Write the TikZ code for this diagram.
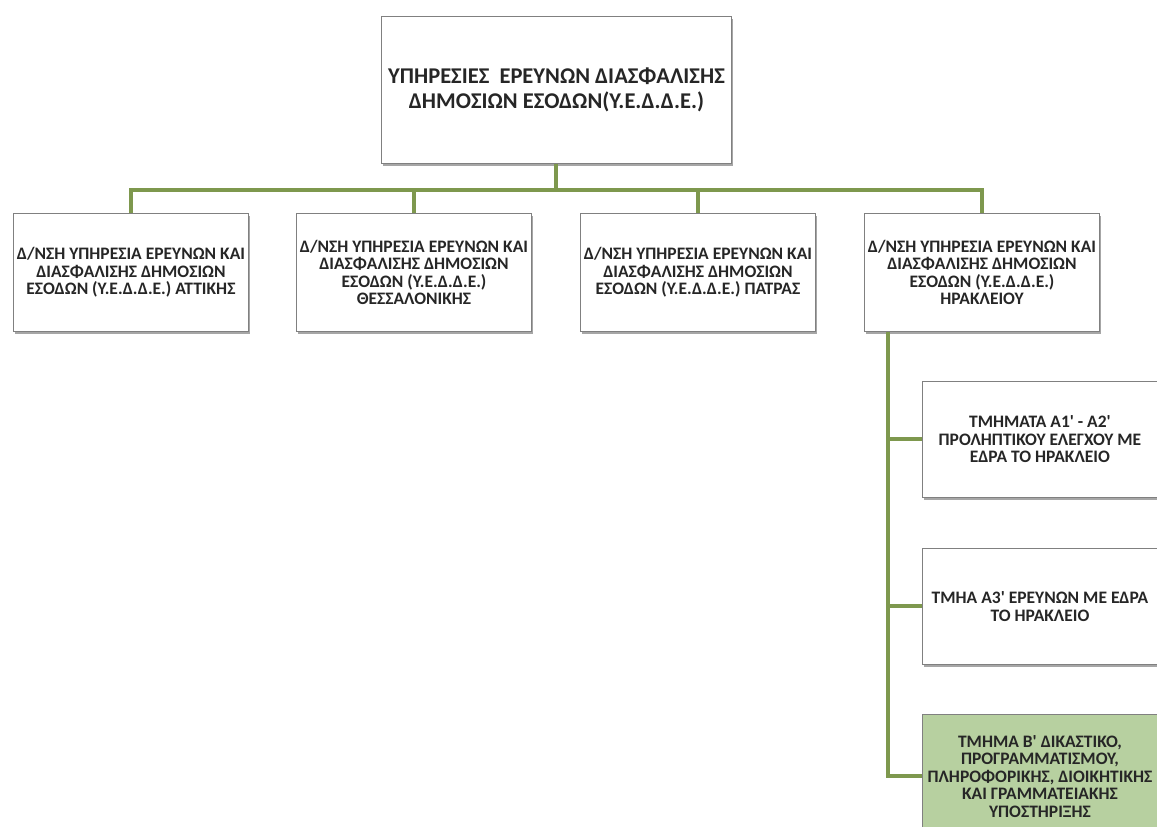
\documentclass[tikz,border=0pt]{standalone}
\usepackage{fontspec}
\setmainfont{Carlito}[Ligatures=TeXOff]
\usetikzlibrary{shadows}
\definecolor{lineg}{RGB}{126,152,78}
\definecolor{fillg}{RGB}{183,208,160}
\definecolor{boxb}{RGB}{128,128,128}
\tikzset{
  orgbox/.style={draw=boxb, line width=0.9pt, fill=white, rectangle, anchor=north west,
    minimum width=235pt, minimum height=118pt, align=center, inner sep=1pt,
    font=\bfseries\fontsize{17.5}{17.5}\selectfont, text=black!85,
    drop shadow={shadow xshift=2pt, shadow yshift=-3pt, opacity=0.35, fill=black}},
  topbox/.style={orgbox, minimum width=350pt, minimum height=147pt,
    font=\bfseries\fontsize{22.5}{25}\selectfont},
  greenbox/.style={orgbox, fill=fillg},
  conn/.style={draw=lineg, line width=4pt}
}
\begin{document}
\begin{tikzpicture}[x=1pt,y=-1pt]
\useasboundingbox (0,0) rectangle (1157,827);
\clip (0,0) rectangle (1157,827);
\node[topbox] (top) at (381,16) {ΥΠΗΡΕΣΙΕΣ\ \ ΕΡΕΥΝΩΝ ΔΙΑΣΦΑΛΙΣΗΣ\\ΔΗΜΟΣΙΩΝ ΕΣΟΔΩΝ(Υ.Ε.Δ.Δ.Ε.)};
\node[orgbox] (c1) at (13,213) {Δ/ΝΣΗ ΥΠΗΡΕΣΙΑ ΕΡΕΥΝΩΝ ΚΑΙ\\ΔΙΑΣΦΑΛΙΣΗΣ ΔΗΜΟΣΙΩΝ\\ΕΣΟΔΩΝ (Υ.Ε.Δ.Δ.Ε.) ΑΤΤΙΚΗΣ};
\node[orgbox] (c2) at (296,213) {Δ/ΝΣΗ ΥΠΗΡΕΣΙΑ ΕΡΕΥΝΩΝ ΚΑΙ\\ΔΙΑΣΦΑΛΙΣΗΣ ΔΗΜΟΣΙΩΝ\\ΕΣΟΔΩΝ (Υ.Ε.Δ.Δ.Ε.)\\ΘΕΣΣΑΛΟΝΙΚΗΣ};
\node[orgbox] (c3) at (580,213) {Δ/ΝΣΗ ΥΠΗΡΕΣΙΑ ΕΡΕΥΝΩΝ ΚΑΙ\\ΔΙΑΣΦΑΛΙΣΗΣ ΔΗΜΟΣΙΩΝ\\ΕΣΟΔΩΝ (Υ.Ε.Δ.Δ.Ε.) ΠΑΤΡΑΣ};
\node[orgbox] (c4) at (864,213) {Δ/ΝΣΗ ΥΠΗΡΕΣΙΑ ΕΡΕΥΝΩΝ ΚΑΙ\\ΔΙΑΣΦΑΛΙΣΗΣ ΔΗΜΟΣΙΩΝ\\ΕΣΟΔΩΝ (Υ.Ε.Δ.Δ.Ε.)\\ΗΡΑΚΛΕΙΟΥ};
\node[orgbox, minimum height=116pt] (a) at (922,381) {ΤΜΗΜΑΤΑ Α1' - Α2'\\ΠΡΟΛΗΠΤΙΚΟΥ ΕΛΕΓΧΟΥ ΜΕ\\ΕΔΡΑ ΤΟ ΗΡΑΚΛΕΙΟ};
\node[orgbox, minimum height=116pt] (b) at (922,548) {ΤΜΗΑ Α3' ΕΡΕΥΝΩΝ ΜΕ ΕΔΡΑ\\ΤΟ ΗΡΑΚΛΕΙΟ};
\node[greenbox, minimum height=124pt] (c) at (922,714) {ΤΜΗΜΑ Β' ΔΙΚΑΣΤΙΚΟ,\\ΠΡΟΓΡΑΜΜΑΤΙΣΜΟΥ,\\ΠΛΗΡΟΦΟΡΙΚΗΣ, ΔΙΟΙΚΗΤΙΚΗΣ\\ΚΑΙ ΓΡΑΜΜΑΤΕΙΑΚΗΣ\\ΥΠΟΣΤΗΡΙΞΗΣ};
\draw[conn] (top.south) -- ++(0,26) -| (c1.north);
\draw[conn] (top.south) -- ++(0,26) -| (c2.north);
\draw[conn] (top.south) -- ++(0,26) -| (c3.north);
\draw[conn] (top.south) -- ++(0,26) -| (c4.north);
\draw[conn] (c4.south west) ++(24,0) |- (a.west);
\draw[conn] (c4.south west) ++(24,0) |- (b.west);
\draw[conn] (c4.south west) ++(24,0) |- (c.west);
\end{tikzpicture}
\end{document}
